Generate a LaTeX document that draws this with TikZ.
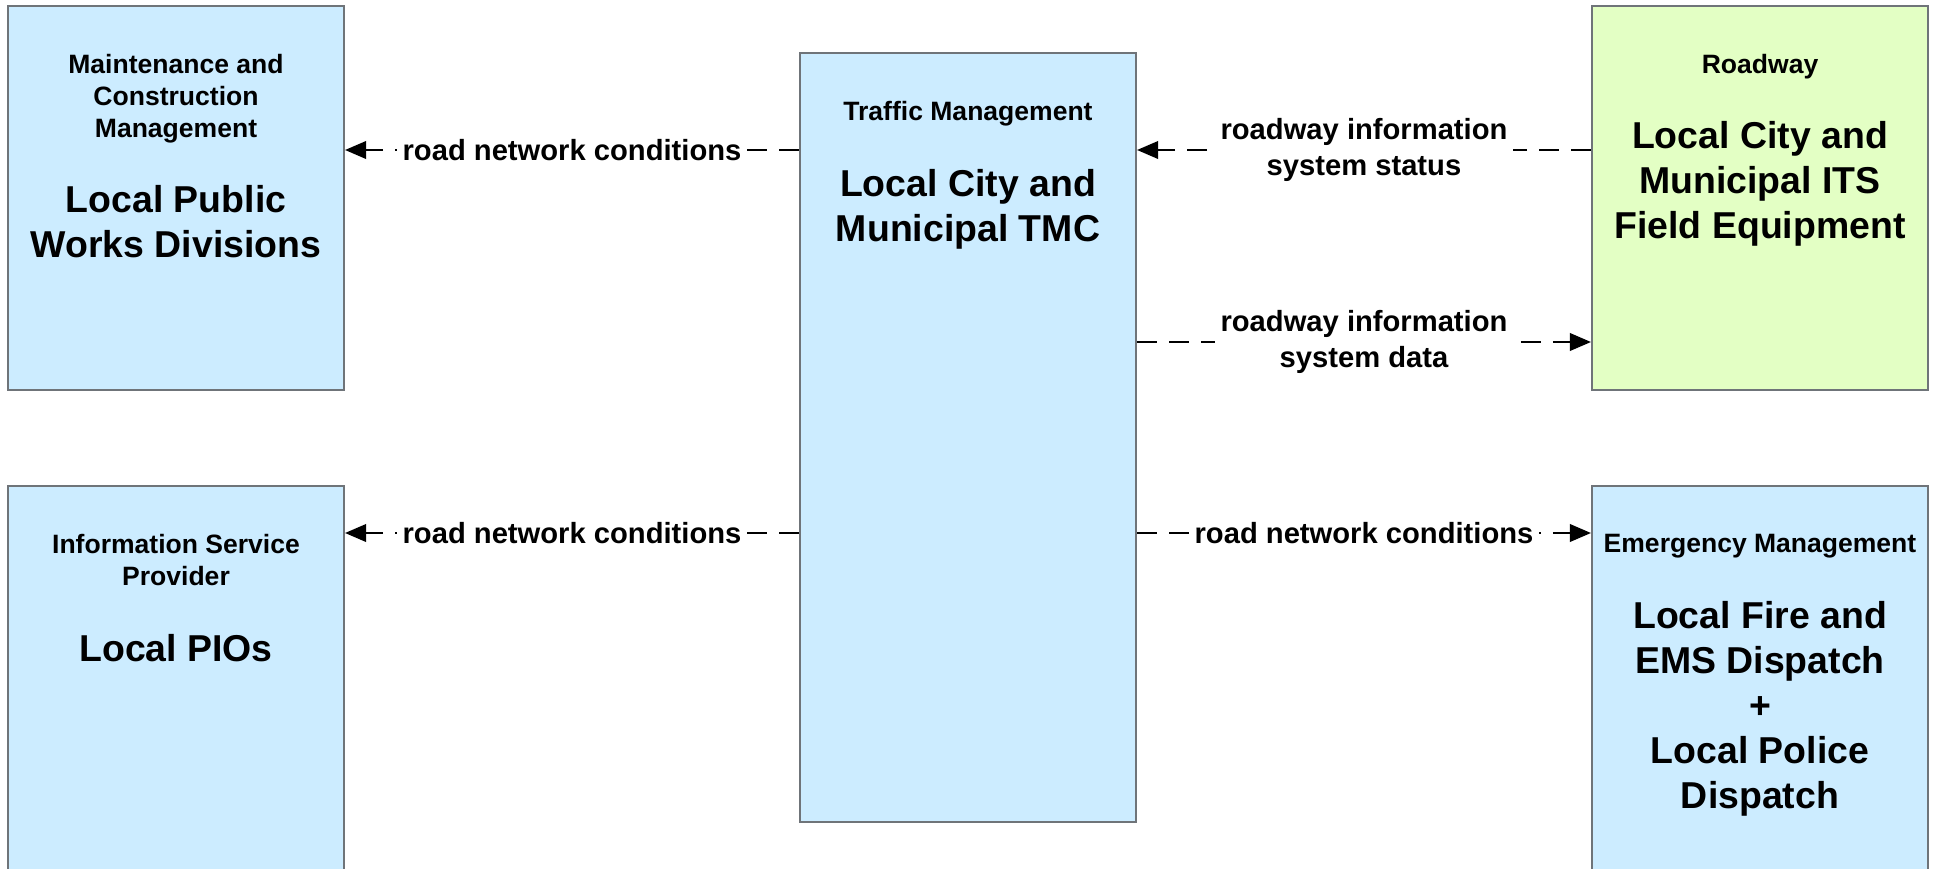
\documentclass[tikz,border=0pt]{standalone}
\usepackage{fontspec}
\setmainfont{Liberation Sans}
\usetikzlibrary{arrows.meta,positioning}
\definecolor{BoxBlue}{HTML}{CCECFF}
\definecolor{BoxGreen}{HTML}{E3FFC4}
\definecolor{BoxEdge}{HTML}{6F7479}
\tikzset{
  >={Triangle[length=6pt,width=5pt]},
  block/.style={rectangle, draw=BoxEdge, line width=0.6pt,
    minimum width=3.36cm, minimum height=3.84cm, inner sep=0pt},
  elemtitle/.style={align=center, inner sep=0pt,
    font=\fontsize{7.55}{9.1}\selectfont\bfseries},
  elemname/.style={align=center, inner sep=0pt,
    font=\fontsize{10.65}{12.8}\selectfont\bfseries},
  flow/.style={draw, ->, line width=0.6pt, dash pattern=on 5.7pt off 3.4pt},
  flowlabel/.style={fill=white, align=center, inner sep=1.5pt,
    font=\fontsize{8.3}{10}\selectfont\bfseries}
}
\begin{document}
\begin{tikzpicture}
\useasboundingbox (0,0) rectangle (19.37,8.68);

\node[block, fill=BoxBlue] (maint) at (1.76,6.70) {};
\node[elemtitle, below=0.49cm of maint.north] (maint-title) {Maintenance and\\Construction\\Management};
\node[elemname, below=0.41cm of maint-title] (maint-name) {Local Public\\Works Divisions};

\node[block, fill=BoxBlue] (isp) at (1.76,1.90) {};
\node[elemtitle, below=0.49cm of isp.north] (isp-title) {Information Service\\Provider};
\node[elemname, below=0.47cm of isp-title] (isp-name) {Local PIOs};

\node[block, fill=BoxBlue, minimum height=7.69cm] (tmc) at (9.68,4.305) {};
\node[elemtitle, below=0.49cm of tmc.north] (tmc-title) {Traffic Management};
\node[elemname, below=0.41cm of tmc-title] (tmc-name) {Local City and\\Municipal TMC};

\node[block, fill=BoxGreen] (roadway) at (17.60,6.70) {};
\node[elemtitle, below=0.49cm of roadway.north] (roadway-title) {Roadway};
\node[elemname, below=0.41cm of roadway-title] (roadway-name) {Local City and\\Municipal ITS\\Field Equipment};

\node[block, fill=BoxBlue] (em) at (17.60,1.90) {};
\node[elemtitle, below=0.49cm of em.north] (em-title) {Emergency Management};
\node[elemname, below=0.41cm of em-title] (em-name) {Local Fire and\\EMS Dispatch\\+\\Local Police\\Dispatch};

\draw[flow] ([yshift=4.8mm]maint.east -| tmc.west) -- node[flowlabel] {road network conditions} ([yshift=4.8mm]maint.east);
\draw[flow] ([yshift=4.8mm]roadway.west) -- node[flowlabel] {roadway information\\system status} ([yshift=4.8mm]roadway.west -| tmc.east);
\draw[flow] ([yshift=-14.4mm]roadway.west -| tmc.east) -- node[flowlabel] {roadway information\\system data} ([yshift=-14.4mm]roadway.west);
\draw[flow] ([yshift=14.5mm]isp.east -| tmc.west) -- node[flowlabel] {road network conditions} ([yshift=14.5mm]isp.east);
\draw[flow] ([yshift=14.5mm]em.west -| tmc.east) -- node[flowlabel] {road network conditions} ([yshift=14.5mm]em.west);

\end{tikzpicture}
\end{document}
